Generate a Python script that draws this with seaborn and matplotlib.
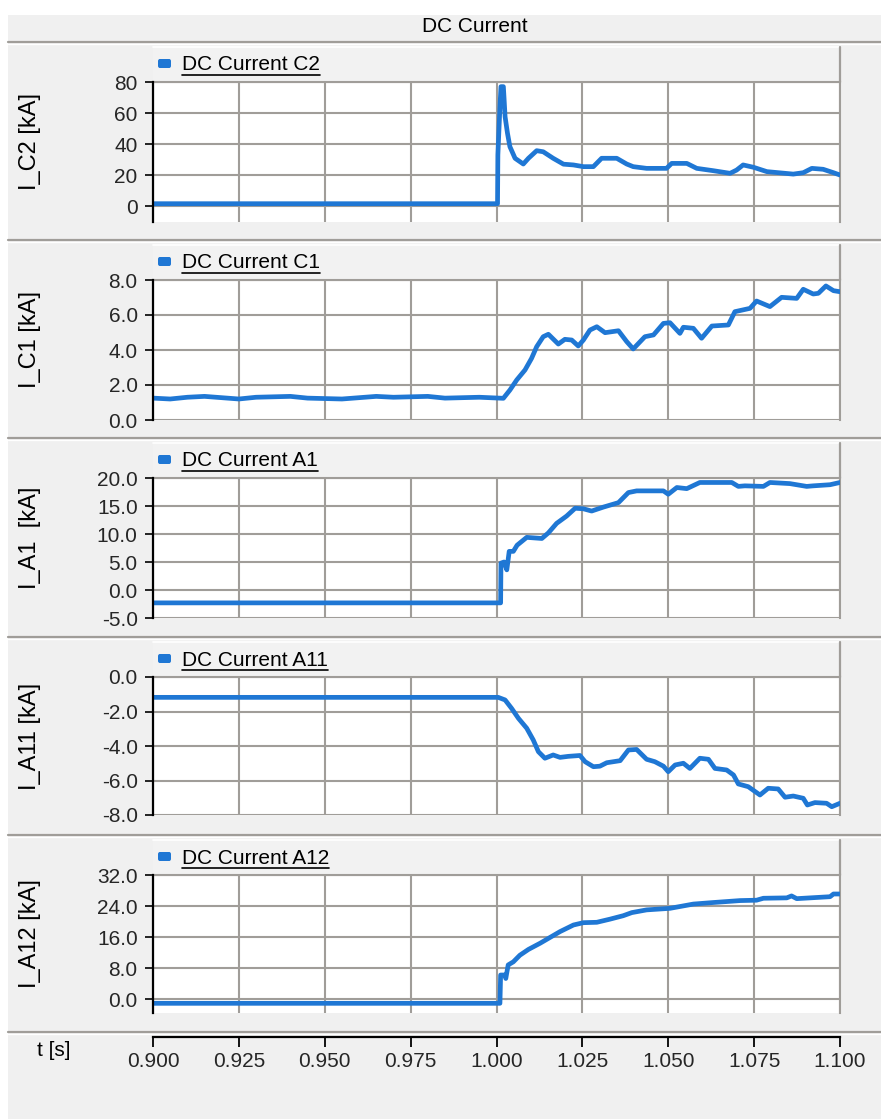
import numpy as np
import pandas as pd
import matplotlib
matplotlib.use("Agg")
import matplotlib.pyplot as plt
import seaborn as sns
from matplotlib.patches import Rectangle, FancyBboxPatch
from matplotlib.lines import Line2D

sns.set_style("white")
plt.rcParams["font.family"] = ["Liberation Sans", "DejaVu Sans"]

# ---------------- data ----------------
title = "DC Current"
x_label = "t [s]"
x_ticks = [0.900, 0.925, 0.950, 0.975, 1.000, 1.025, 1.050, 1.075, 1.100]
x_tick_labels = ["0.900", "0.925", "0.950", "0.975", "1.000", "1.025", "1.050", "1.075", "1.100"]

legend_names = ["DC Current C2", "DC Current C1", "DC Current A1", "DC Current A11", "DC Current A12"]
y_labels = ["I_C2 [kA]", "I_C1 [kA]", "I_A1  [kA]", "I_A11 [kA]", "I_A12 [kA]"]

y_ticks_c2 = [0, 20, 40, 60, 80]
y_labels_c2 = ["0", "20", "40", "60", "80"]
y_ticks_c1 = [0, 2, 4, 6, 8]
y_labels_c1 = ["0.0", "2.0", "4.0", "6.0", "8.0"]
y_ticks_a1 = [-5, 0, 5, 10, 15, 20]
y_labels_a1 = ["-5.0", "0.0", "5.0", "10.0", "15.0", "20.0"]
y_ticks_a11 = [-8, -6, -4, -2, 0]
y_labels_a11 = ["-8.0", "-6.0", "-4.0", "-2.0", "0.0"]
y_ticks_a12 = [0, 8, 16, 24, 32]
y_labels_a12 = ["0.0", "8.0", "16.0", "24.0", "32.0"]

t_c2 = [0.900, 1.0003, 1.0004, 1.0010, 1.0013, 1.0020, 1.0022, 1.0025, 1.0032, 1.0039,
        1.0054, 1.0078, 1.0093, 1.0117, 1.0136, 1.0165, 1.0195, 1.0224, 1.0253, 1.0282,
        1.0306, 1.0350, 1.0379, 1.0398, 1.0437, 1.0495, 1.0510, 1.0554, 1.0583, 1.0631,
        1.0680, 1.0699, 1.0718, 1.0748, 1.0787, 1.0864, 1.0893, 1.0918, 1.0951, 1.0981, 1.1000]
i_c2 = [1.5, 1.5, 33, 64, 77, 77, 69.5, 57.6, 46.9, 38.3,
        30.8, 27.1, 30.8, 35.7, 35.0, 30.8, 27.0, 26.5, 25.4, 25.4,
        30.8, 30.8, 27.1, 25.4, 24.3, 24.3, 27.5, 27.5, 24.3, 22.8,
        21.1, 23.2, 26.5, 25.0, 22.2, 20.6, 21.5, 24.3, 23.7, 21.5, 20.0]

t_c1 = [0.900, 0.905, 0.910, 0.915, 0.925, 0.930, 0.940, 0.945, 0.955, 0.965,
        0.970, 0.980, 0.985, 0.995,
        1.0020, 1.0039, 1.0059, 1.0083, 1.0102, 1.0117, 1.0136, 1.0151, 1.0180, 1.0199,
        1.0219, 1.0238, 1.0253, 1.0272, 1.0292, 1.0316, 1.0355, 1.0379, 1.0398, 1.0432,
        1.0457, 1.0486, 1.0505, 1.0534, 1.0544, 1.0573, 1.0597, 1.0627, 1.0675, 1.0694,
        1.0738, 1.0757, 1.0796, 1.0830, 1.0874, 1.0893, 1.0922, 1.0937, 1.0959, 1.0981, 1.1000]
i_c1 = [1.25, 1.2, 1.3, 1.35, 1.2, 1.3, 1.35, 1.25, 1.2, 1.35,
        1.3, 1.35, 1.25, 1.3,
        1.24, 1.71, 2.29, 2.86, 3.52, 4.19, 4.76, 4.9, 4.34, 4.61,
        4.57, 4.23, 4.57, 5.14, 5.33, 4.99, 5.1, 4.48, 4.06, 4.76,
        4.86, 5.52, 5.56, 4.95, 5.3, 5.24, 4.67, 5.37, 5.43, 6.19,
        6.38, 6.8, 6.48, 7.01, 6.95, 7.47, 7.2, 7.24, 7.66, 7.39, 7.33]

t_a1 = [0.900, 1.0012, 1.0013, 1.0022, 1.0030, 1.0037, 1.0049, 1.0060, 1.0088, 1.0132,
        1.0151, 1.0175, 1.0204, 1.0229, 1.0253, 1.0277, 1.0311, 1.0355, 1.0384, 1.0408,
        1.0486, 1.0500, 1.0525, 1.0554, 1.0592, 1.0685, 1.0704, 1.0723, 1.0777, 1.0796,
        1.0854, 1.0903, 1.0922, 1.0971, 1.1000]
i_a1 = [-2.3, -2.3, 4.8, 5.0, 3.6, 6.9, 6.9, 8.0, 9.4, 9.2,
        10.2, 11.9, 13.2, 14.6, 14.5, 14.1, 14.8, 15.6, 17.4, 17.7,
        17.7, 17.1, 18.3, 18.1, 19.2, 19.2, 18.5, 18.6, 18.5, 19.2,
        19.0, 18.5, 18.6, 18.8, 19.2]

t_a11 = [0.900, 1.0005, 1.0025, 1.0044, 1.0064, 1.0088, 1.0107, 1.0122, 1.0141, 1.0165,
         1.0185, 1.0209, 1.0243, 1.0258, 1.0282, 1.0301, 1.0321, 1.0360, 1.0384, 1.0408,
         1.0437, 1.0461, 1.0486, 1.0500, 1.0520, 1.0544, 1.0563, 1.0592, 1.0617, 1.0636,
         1.0670, 1.0690, 1.0704, 1.0733, 1.0767, 1.0791, 1.0820, 1.0840, 1.0864, 1.0893,
         1.0905, 1.0927, 1.0961, 1.0976, 1.1000]
i_a11 = [-1.18, -1.18, -1.33, -1.82, -2.4, -2.97, -3.65, -4.33, -4.71, -4.52,
         -4.66, -4.6, -4.55, -4.91, -5.2, -5.17, -4.97, -4.85, -4.23, -4.2,
         -4.77, -4.91, -5.17, -5.49, -5.1, -5.0, -5.3, -4.71, -4.77, -5.3,
         -5.39, -5.68, -6.2, -6.36, -6.84, -6.45, -6.49, -6.97, -6.9, -7.03,
         -7.42, -7.28, -7.32, -7.52, -7.32]

t_a12 = [0.900, 1.0010, 1.0012, 1.0025, 1.0027, 1.0034, 1.0049, 1.0068, 1.0093, 1.0127,
         1.0156, 1.0185, 1.0224, 1.0253, 1.0292, 1.0330, 1.0369, 1.0394, 1.0437, 1.0505,
         1.0573, 1.0631, 1.0709, 1.0757, 1.0777, 1.0845, 1.0859, 1.0874, 1.0971, 1.0981, 1.1000]
i_a12 = [-1.1, -1.1, 6.2, 6.2, 5.3, 8.8, 9.6, 11.3, 12.8, 14.4,
         15.9, 17.4, 19.1, 19.7, 19.8, 20.6, 21.5, 22.3, 23.0, 23.4,
         24.5, 24.9, 25.4, 25.5, 26.0, 26.1, 26.6, 25.9, 26.4, 27.1, 27.1]

series_t = [t_c2, t_c1, t_a1, t_a11, t_a12]
series_i = [i_c2, i_c1, i_a1, i_a11, i_a12]
ticks_all = [y_ticks_c2, y_ticks_c1, y_ticks_a1, y_ticks_a11, y_ticks_a12]
ticklabels_all = [y_labels_c2, y_labels_c1, y_labels_a1, y_labels_a11, y_labels_a12]
ylims = [(-10.3, 80), (0, 8), (-5, 20), (-8, 0), (-3.6, 32)]

# ---------------- layout (pixel geometry) ----------------
W, H = 881, 1119
DPI = 100
fig = plt.figure(figsize=(W / DPI, H / DPI), dpi=DPI, facecolor="white")

def fx(px):
    return px / W

def fy(py):
    return 1 - py / H

BG = "#f0f0f0"
GRID = "#a09d99"
BLUE = "#1f77d4"

# panel background
fig.patches.append(Rectangle((fx(8), 0), fx(W - 8), fy(15), transform=fig.transFigure,
                             facecolor=BG, edgecolor="none", zorder=-10))

# separators
for sy in [42, 240, 438, 637, 835, 1032]:
    fig.add_artist(Line2D([fx(8), 1], [fy(sy), fy(sy)], color=GRID, lw=1.6,
                          transform=fig.transFigure, zorder=-5))
    fig.add_artist(Line2D([fx(8), 1], [fy(sy + 2), fy(sy + 2)], color="white", lw=1.0,
                          transform=fig.transFigure, zorder=-5))

fig.text(fx(475), fy(27), title, ha="center", va="center", fontsize=15, color="black")

L, R = 153, 840
tops = [82, 280, 478, 677, 875]
bots = [222, 420, 618, 815, 1013]
leg_tops = [47, 245, 443, 642, 840]

labels_to_underline = []
for k in range(5):
    top, bot = tops[k], bots[k]
    # legend strip
    fig.patches.append(Rectangle((fx(L), fy(top)), fx(R - L), fy(leg_tops[k]) - fy(top),
                                 transform=fig.transFigure, facecolor="#f2f2f2",
                                 edgecolor="none", zorder=-4))
    fig.add_artist(Line2D([fx(L), fx(R)], [fy(leg_tops[k]), fy(leg_tops[k])], color="white",
                          lw=1.2, transform=fig.transFigure, zorder=-3))
    fig.add_artist(Line2D([fx(R), fx(R)], [fy(leg_tops[k]), fy(top)], color=GRID,
                          lw=1.6, transform=fig.transFigure, zorder=-3))
    # legend marker + label
    fig.patches.append(FancyBboxPatch((fx(158), fy(top - 14)), fx(13), fy(top - 23) - fy(top - 14),
                                      boxstyle="round,pad=0,rounding_size=0.002",
                                      transform=fig.transFigure, facecolor=BLUE,
                                      edgecolor="none", zorder=2))
    txt = fig.text(fx(182), fy(top - 17), legend_names[k], ha="left", va="center",
                   fontsize=15, color="black")
    labels_to_underline.append((txt, top))

    ax = fig.add_axes([fx(L), fy(bot), fx(R - L), fy(top) - fy(bot)])
    ax.set_facecolor("white")
    df = pd.DataFrame({"t": series_t[k], "i": series_i[k]})
    sns.lineplot(data=df, x="t", y="i", ax=ax, color=BLUE, linewidth=3.4,
                 estimator=None, sort=False, zorder=3)
    ax.set_xlim(0.9, 1.1)
    ax.set_ylim(*ylims[k])
    ax.set_xticks(x_ticks)
    ax.set_yticks(ticks_all[k])
    ax.set_yticklabels(ticklabels_all[k])
    ax.tick_params(axis="x", length=0, labelbottom=False)
    ax.tick_params(axis="y", direction="out", length=6, width=1.2, color="black",
                   pad=5, labelsize=15, left=True)
    ax.grid(True, color=GRID, lw=1.5)
    ax.set_axisbelow(True)
    ax.set_xlabel("")
    ax.set_ylabel("")
    for s in ["top", "right"]:
        ax.spines[s].set_visible(True)
        ax.spines[s].set_color(GRID)
        ax.spines[s].set_linewidth(1.5)
    ax.spines["bottom"].set_visible(False)
    ax.spines["left"].set_visible(True)
    ax.spines["left"].set_color("black")
    ax.spines["left"].set_linewidth(1.6)
    ax.spines["left"].set_zorder(5)
    fig.text(fx(30), fy((top + bot) / 2 - 10), y_labels[k], rotation=90,
             ha="center", va="center", fontsize=17, color="black")

# bottom time axis
axx = fig.add_axes([fx(L), fy(1037), fx(R - L), 0.0001])
axx.set_facecolor("none")
axx.set_xlim(0.9, 1.1)
axx.set_xticks(x_ticks)
axx.set_xticklabels(x_tick_labels)
axx.set_yticks([])
axx.tick_params(axis="x", which="major", direction="out", length=7, width=1.3, color="black",
                pad=4, labelsize=15, bottom=True, labelbottom=True)
for s in ["top", "right", "left"]:
    axx.spines[s].set_visible(False)
axx.spines["bottom"].set_visible(True)
axx.spines["bottom"].set_color("black")
axx.spines["bottom"].set_linewidth(1.6)
fig.text(fx(54), fy(1051), x_label, ha="center", va="center", fontsize=15, color="black")

# underline legend labels
fig.canvas.draw()
renderer = fig.canvas.get_renderer()
for txt, top in labels_to_underline:
    bb = txt.get_window_extent(renderer)
    yline = fy(top - 7)
    fig.add_artist(Line2D([bb.x0 / W, bb.x1 / W], [yline, yline], color="black", lw=1.2,
                          transform=fig.transFigure, zorder=4))

fig.savefig("out.png", dpi=DPI, facecolor="white")
